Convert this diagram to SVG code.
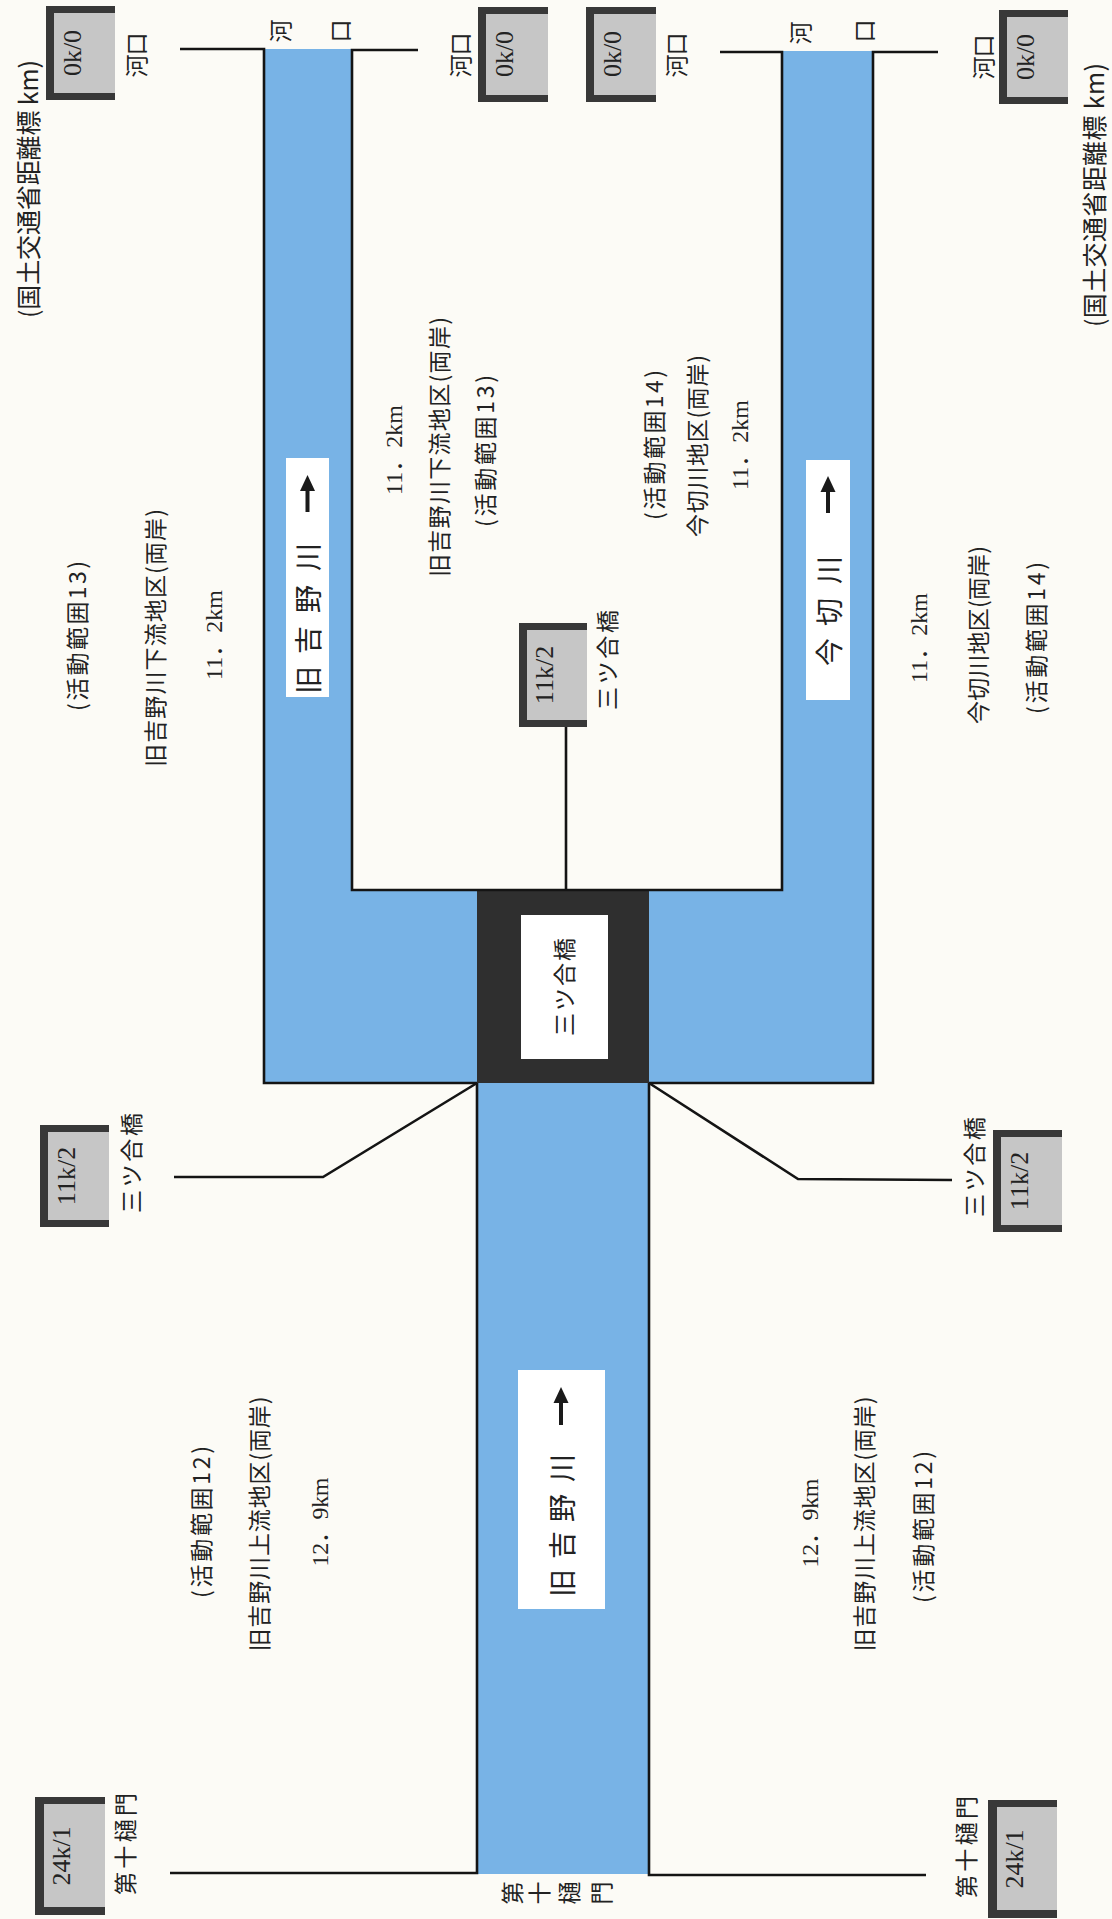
<svg xmlns="http://www.w3.org/2000/svg" width="1112" height="1919" viewBox="0 0 1112 1919">
<defs>
<style>
.bg{fill:#fcfbf6}
.water{fill:#78b3e6}
.edge{fill:none;stroke:#141414;stroke-width:2.6;stroke-linejoin:miter}
.frame{fill:#383838}
.gray{fill:#c6c6c6}
.lab{fill:#ffffff}
.t{font-family:"Noto Sans CJK JP","Noto Sans CJK SC",sans-serif;font-size:23px;fill:#222;text-anchor:middle;dominant-baseline:central}
.big{font-family:"Noto Sans CJK JP","Noto Sans CJK SC",sans-serif;font-size:28px;fill:#222;text-anchor:middle;dominant-baseline:central}
.s{font-family:"Liberation Serif","Noto Sans CJK JP",serif;font-size:24px;fill:#222;text-anchor:middle;dominant-baseline:central}
.mk{font-family:"Liberation Serif",serif;font-size:26px;fill:#222;text-anchor:middle;dominant-baseline:central}
.arrow{fill:#1a1a1a}
</style>
</defs>
<rect class="bg" x="0" y="0" width="1112" height="1919"/>

<g id="water">
<path class="water" d="M264,49 H352 V890 H782 V51 H873 V1083 H649 V1874 H477 V1083 H264 Z"/>
<rect x="477" y="890" width="172" height="193" fill="#2f2f2f"/>
</g>

<g id="connectors">
<polyline class="edge" points="180,49 264,49 264,1083 477,1083"/>
<polyline class="edge" points="477,1083 323,1177 174,1177"/>
<polyline class="edge" points="477,1083 477,1873 170,1873"/>
<polyline class="edge" points="418,50 352,50 352,890 782,890 782,52 720,52"/>
<polyline class="edge" points="566,727 566,890"/>
<polyline class="edge" points="938,52 873,52 873,1083 649,1083"/>
<polyline class="edge" points="649,1083 798,1179 952,1180"/>
<polyline class="edge" points="649,1083 649,1875 926,1875"/>
</g>

<g id="junction-label">
<rect class="lab" x="521" y="915" width="87" height="144"/>
<text class="t" transform="translate(563,987) rotate(-90)" textLength="98" lengthAdjust="spacing">三ツ合橋</text>
</g>

<g id="label-kyuyoshino-lower">
<rect class="lab" x="286" y="458" width="43" height="239"/>
<polygon class="arrow" points="307.5,475 300,491 315,491"/>
<rect class="arrow" x="305.5" y="489" width="4" height="23"/>
<text class="big" transform="translate(307,557) rotate(-90)">川</text>
<text class="big" transform="translate(307,599) rotate(-90)">野</text>
<text class="big" transform="translate(307,640) rotate(-90)">吉</text>
<text class="big" transform="translate(307,680) rotate(-90)">旧</text>
</g>

<g id="label-imagiri">
<rect class="lab" x="806" y="460" width="44" height="240"/>
<polygon class="arrow" points="828,476 820.5,492 835.5,492"/>
<rect class="arrow" x="826" y="490" width="4" height="23"/>
<text class="big" transform="translate(828,570) rotate(-90)">川</text>
<text class="big" transform="translate(828,612) rotate(-90)">切</text>
<text class="big" transform="translate(828,652) rotate(-90)">今</text>
</g>

<g id="label-kyuyoshino-upper">
<rect class="lab" x="518" y="1370" width="87" height="239"/>
<polygon class="arrow" points="561,1387 553.5,1403 568.5,1403"/>
<rect class="arrow" x="559" y="1401" width="4" height="24"/>
<text class="big" transform="translate(561,1468) rotate(-90)">川</text>
<text class="big" transform="translate(561,1508) rotate(-90)">野</text>
<text class="big" transform="translate(561,1545) rotate(-90)">吉</text>
<text class="big" transform="translate(561,1583) rotate(-90)">旧</text>
</g>

<g id="river-mouth-texts">
<text class="t" transform="translate(279,31) rotate(-90)">河</text>
<text class="t" transform="translate(339,31) rotate(-90)">口</text>
<text class="t" transform="translate(799,33) rotate(-90)">河</text>
<text class="t" transform="translate(863,31) rotate(-90)">口</text>
</g>

<g id="gate-text">
<text class="t" transform="translate(511,1893) rotate(-90)">第</text>
<text class="t" transform="translate(538,1893) rotate(-90)">十</text>
<text class="t" transform="translate(568,1893) rotate(-90)">樋</text>
<text class="t" transform="translate(600,1893) rotate(-90)">門</text>
</g>

<g id="marker-0k0-a">
<rect class="frame" x="46" y="6" width="69" height="94"/>
<rect class="gray" x="54" y="13" width="61" height="80"/>
<text class="mk" transform="translate(72,53) rotate(-90)">0k/0</text>
<text class="t" transform="translate(135,55) rotate(-90)" textLength="45" lengthAdjust="spacing">河口</text>
</g>
<g id="marker-0k0-b">
<rect class="frame" x="478" y="7" width="70" height="95"/>
<rect class="gray" x="486" y="14" width="62" height="81"/>
<text class="mk" transform="translate(504,54) rotate(-90)">0k/0</text>
<text class="t" transform="translate(459,55) rotate(-90)" textLength="45" lengthAdjust="spacing">河口</text>
</g>
<g id="marker-0k0-c">
<rect class="frame" x="586" y="7" width="70" height="95"/>
<rect class="gray" x="594" y="14" width="62" height="81"/>
<text class="mk" transform="translate(612,54) rotate(-90)">0k/0</text>
<text class="t" transform="translate(675,55) rotate(-90)" textLength="45" lengthAdjust="spacing">河口</text>
</g>
<g id="marker-0k0-d">
<rect class="frame" x="999" y="10" width="69" height="94"/>
<rect class="gray" x="1007" y="17" width="61" height="80"/>
<text class="mk" transform="translate(1025,57) rotate(-90)">0k/0</text>
<text class="t" transform="translate(982,57) rotate(-90)" textLength="45" lengthAdjust="spacing">河口</text>
</g>

<g id="marker-11k2-inner">
<rect class="frame" x="519" y="623" width="68" height="104"/>
<rect class="gray" x="527" y="630" width="60" height="90"/>
<text class="mk" transform="translate(544,675) rotate(-90)">11k/2</text>
<text class="t" transform="translate(606,660) rotate(-90)" textLength="100" lengthAdjust="spacing">三ツ合橋</text>
</g>
<g id="marker-11k2-left">
<rect class="frame" x="40" y="1125" width="69" height="102"/>
<rect class="gray" x="48" y="1132" width="61" height="88"/>
<text class="mk" transform="translate(66,1176) rotate(-90)">11k/2</text>
<text class="t" transform="translate(130,1163) rotate(-90)" textLength="100" lengthAdjust="spacing">三ツ合橋</text>
</g>
<g id="marker-11k2-right">
<rect class="frame" x="993" y="1130" width="69" height="102"/>
<rect class="gray" x="1001" y="1137" width="61" height="88"/>
<text class="mk" transform="translate(1019,1181) rotate(-90)">11k/2</text>
<text class="t" transform="translate(973,1167) rotate(-90)" textLength="100" lengthAdjust="spacing">三ツ合橋</text>
</g>
<g id="marker-24k1-left">
<rect class="frame" x="35" y="1797" width="70" height="118"/>
<rect class="gray" x="44" y="1804" width="61" height="103"/>
<text class="mk" transform="translate(61,1856) rotate(-90)">24k/1</text>
<text class="t" transform="translate(124,1844) rotate(-90)" textLength="102" lengthAdjust="spacing">第十樋門</text>
</g>
<g id="marker-24k1-right">
<rect class="frame" x="988" y="1800" width="69" height="118"/>
<rect class="gray" x="997" y="1807" width="60" height="103"/>
<text class="mk" transform="translate(1014,1859) rotate(-90)">24k/1</text>
<text class="t" transform="translate(965,1847) rotate(-90)" textLength="102" lengthAdjust="spacing">第十樋門</text>
</g>

<g id="legend">
<text class="t" transform="translate(27,189) rotate(-90)" style="font-size:25px" textLength="258" lengthAdjust="spacing">(国土交通省距離標 km)</text>
<text class="t" transform="translate(1093,195) rotate(-90)" style="font-size:25px" textLength="264" lengthAdjust="spacing">(国土交通省距離標 km)</text>
</g>

<g id="area-13-outer">
<text class="t" transform="translate(76,636) rotate(-90)" textLength="150" lengthAdjust="spacing">(活動範囲13)</text>
<text class="t" transform="translate(154,638) rotate(-90)" textLength="258" lengthAdjust="spacing">旧吉野川下流地区(両岸)</text>
<text class="s" transform="translate(214,635) rotate(-90)" textLength="90" lengthAdjust="spacing">11．2km</text>
</g>
<g id="area-13-inner">
<text class="s" transform="translate(394,450) rotate(-90)" textLength="90" lengthAdjust="spacing">11．2km</text>
<text class="t" transform="translate(438,447) rotate(-90)" textLength="260" lengthAdjust="spacing">旧吉野川下流地区(両岸)</text>
<text class="t" transform="translate(484,451) rotate(-90)" textLength="152" lengthAdjust="spacing">(活動範囲13)</text>
</g>
<g id="area-14-inner">
<text class="t" transform="translate(653,445) rotate(-90)" textLength="150" lengthAdjust="spacing">(活動範囲14)</text>
<text class="t" transform="translate(696,446) rotate(-90)" textLength="182" lengthAdjust="spacing">今切川地区(両岸)</text>
<text class="s" transform="translate(740,445) rotate(-90)" textLength="90" lengthAdjust="spacing">11．2km</text>
</g>
<g id="area-14-outer">
<text class="s" transform="translate(919,638) rotate(-90)" textLength="90" lengthAdjust="spacing">11．2km</text>
<text class="t" transform="translate(977,635) rotate(-90)" textLength="178" lengthAdjust="spacing">今切川地区(両岸)</text>
<text class="t" transform="translate(1035,638) rotate(-90)" textLength="152" lengthAdjust="spacing">(活動範囲14)</text>
</g>
<g id="area-12-left">
<text class="t" transform="translate(200,1522) rotate(-90)" textLength="152" lengthAdjust="spacing">(活動範囲12)</text>
<text class="t" transform="translate(258,1524) rotate(-90)" textLength="255" lengthAdjust="spacing">旧吉野川上流地区(両岸)</text>
<text class="s" transform="translate(320,1522) rotate(-90)" textLength="89" lengthAdjust="spacing">12．9km</text>
</g>
<g id="area-12-right">
<text class="s" transform="translate(810,1523) rotate(-90)" textLength="89" lengthAdjust="spacing">12．9km</text>
<text class="t" transform="translate(863,1524) rotate(-90)" textLength="255" lengthAdjust="spacing">旧吉野川上流地区(両岸)</text>
<text class="t" transform="translate(922,1527) rotate(-90)" textLength="152" lengthAdjust="spacing">(活動範囲12)</text>
</g>
</svg>
